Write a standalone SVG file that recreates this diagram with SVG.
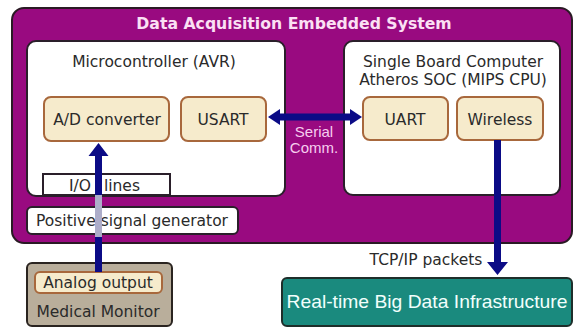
<svg xmlns="http://www.w3.org/2000/svg" width="574" height="327" viewBox="0 0 574 327">
<defs>
<style>
.t{font-family:"DejaVu Sans",sans-serif;font-size:15.5px;fill:#2a2a2a;text-anchor:middle}
.wbox{fill:#ffffff;stroke:#2a1f2a;stroke-width:2}
.cbox{fill:#f6ebcc;stroke:#a8683c;stroke-width:2}
.arr{fill:#0b0b86}
.sl{font-family:"Liberation Sans",sans-serif;font-size:15px;fill:#f6cdee;text-anchor:middle}
</style>
</defs>
<rect width="574" height="327" fill="#ffffff"/>
<g id="system">
<rect x="12" y="8" width="560" height="235" rx="12" fill="#990a80" stroke="#2a1a24" stroke-width="2"/>
<text x="294" y="29" style="font-family:'DejaVu Sans',sans-serif;font-size:15.7px;font-weight:bold;fill:#fbe0f4;text-anchor:middle">Data Acquisition Embedded System</text>
</g>
<g id="microcontroller">
<rect class="wbox" x="27" y="41" width="258" height="155" rx="9"/>
<text class="t" x="154" y="67">Microcontroller (AVR)</text>
</g>
<g id="sbc">
<rect class="wbox" x="344" y="41" width="216" height="154" rx="9"/>
<text class="t" x="453" y="67">Single Board Computer</text>
<text class="t" x="453" y="85">Atheros SOC (MIPS CPU)</text>
</g>
<g id="adc">
<rect class="cbox" x="44" y="97" width="125" height="44" rx="7"/>
<text class="t" x="107" y="125">A/D converter</text>
</g>
<g id="usart">
<rect class="cbox" x="181" y="97" width="85" height="44" rx="7"/>
<text class="t" x="223" y="125">USART</text>
</g>
<g id="uart">
<rect class="cbox" x="363" y="97" width="85" height="43" rx="7"/>
<text class="t" x="405" y="125">UART</text>
</g>
<g id="wireless">
<rect class="cbox" x="457" y="97" width="86" height="43" rx="7"/>
<text class="t" x="500" y="125">Wireless</text>
</g>
<g id="serial-label">
<text class="sl" x="314" y="137">Serial</text>
<text class="sl" x="314" y="153">Comm.</text>
</g>
<g id="io-lines">
<rect class="wbox" x="43" y="174" width="127" height="21"/>
<text class="t" x="69" y="191" style="text-anchor:start">I/O<tspan dx="8"> lines</tspan></text>
</g>
<g id="signal-generator">
<rect class="wbox" x="27" y="207" width="211" height="27" rx="5"/>
<text class="t" x="132" y="226">Positive signal generator</text>
</g>
<g id="medical-monitor">
<rect x="27" y="263" width="145" height="63" rx="5" fill="#b9ae9b" stroke="#2a2420" stroke-width="2"/>
<rect class="cbox" x="35" y="272" width="127" height="21" rx="5"/>
<text class="t" x="98" y="288">Analog output</text>
<text class="t" x="98" y="317">Medical Monitor</text>
</g>
<g id="tcp-label">
<text class="t" x="426" y="265">TCP/IP packets</text>
</g>
<g id="bigdata">
<rect x="282" y="278" width="290" height="48" rx="5" fill="#1a8a7e" stroke="#1e2e2a" stroke-width="2"/>
<text x="427" y="308" textLength="281" lengthAdjust="spacingAndGlyphs" style="font-family:'Liberation Sans',sans-serif;font-size:18.5px;fill:#f2fffc;text-anchor:middle">Real-time Big Data Infrastructure</text>
</g>
<g id="connectors">
<polygon class="arr" points="268,117 280,109 280,113.5 350,113.5 350,109 362,117 350,125 350,120.5 280,120.5 280,125"/>
<polygon class="arr" points="494,140 501,140 501,262 508,262 497.5,275 487,262 494,262"/>
<polygon class="arr" points="95,272 95,156 88.5,156 98.5,143 108.5,156 102,156 102,272"/>
<rect x="95" y="195" width="7" height="42" fill="#bcbccf" opacity="0.92"/>
</g>
</svg>
